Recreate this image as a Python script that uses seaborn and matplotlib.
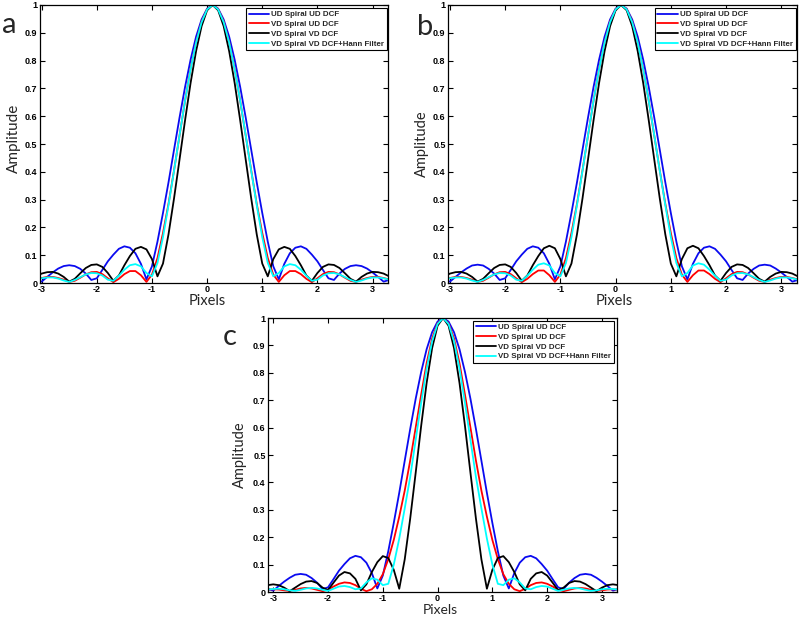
import matplotlib
matplotlib.use("Agg")
import matplotlib.pyplot as plt
import numpy as np
import pandas as pd
import seaborn as sns

# ---------------- data ----------------
x_pixels = [-3.1, -3.0, -2.9, -2.8, -2.7, -2.6, -2.5, -2.4, -2.3, -2.2, -2.1, -2.0,
            -1.9, -1.8, -1.7, -1.6, -1.5, -1.4, -1.3, -1.2, -1.1, -1.0, -0.9, -0.8,
            -0.7, -0.6, -0.5, -0.4, -0.3, -0.2, -0.1, 0.0, 0.1, 0.2, 0.3, 0.4, 0.5,
            0.6, 0.7, 0.8, 0.9, 1.0, 1.1, 1.2, 1.3, 1.4, 1.5, 1.6, 1.7, 1.8, 1.9,
            2.0, 2.1, 2.2, 2.3, 2.4, 2.5, 2.6, 2.7, 2.8, 2.9, 3.0, 3.1, 3.2, 3.3]

series_names = ["UD Spiral UD DCF", "VD Spiral UD DCF", "VD Spiral VD DCF",
                "VD Spiral VD DCF+Hann Filter"]

# panel a
blue_a = [0.011, 0.005, 0.022, 0.038, 0.052, 0.061, 0.064, 0.061, 0.051, 0.034, 0.011, 0.017,
          0.047, 0.078, 0.102, 0.123, 0.132, 0.127, 0.107, 0.069, 0.013, 0.060, 0.149, 0.252,
          0.362, 0.479, 0.595, 0.705, 0.803, 0.886, 0.948, 0.987, 1.000,
          0.987, 0.948, 0.886, 0.803, 0.705, 0.595, 0.479, 0.362, 0.252, 0.149, 0.060, 0.013,
          0.069, 0.107, 0.127, 0.132, 0.123, 0.102, 0.078, 0.047, 0.017, 0.011, 0.034, 0.051,
          0.061, 0.064, 0.061, 0.052, 0.038, 0.022, 0.005, 0.011]
red_a = [0.013, 0.018, 0.022, 0.022, 0.018, 0.012, 0.004, 0.008, 0.019, 0.031, 0.039, 0.040,
         0.032, 0.017, 0.003, 0.015, 0.032, 0.043, 0.043, 0.028, 0.004, 0.030, 0.090, 0.180,
         0.285, 0.405, 0.530, 0.655, 0.770, 0.866, 0.940, 0.985, 1.000,
         0.985, 0.940, 0.866, 0.770, 0.655, 0.530, 0.405, 0.285, 0.180, 0.090, 0.030, 0.004,
         0.028, 0.043, 0.043, 0.032, 0.015, 0.003, 0.017, 0.032, 0.040, 0.039, 0.031, 0.019,
         0.008, 0.004, 0.012, 0.018, 0.022, 0.022, 0.018, 0.013]
black_a = [0.024, 0.034, 0.039, 0.040, 0.034, 0.022, 0.005, 0.015, 0.035, 0.054, 0.065, 0.067,
           0.058, 0.036, 0.008, 0.027, 0.064, 0.097, 0.123, 0.130, 0.121, 0.086, 0.024, 0.070,
           0.175, 0.304, 0.444, 0.585, 0.719, 0.834, 0.924, 0.981, 1.000,
           0.981, 0.924, 0.834, 0.719, 0.585, 0.444, 0.304, 0.175, 0.070, 0.024, 0.086, 0.121,
           0.130, 0.123, 0.097, 0.064, 0.027, 0.008, 0.036, 0.058, 0.067, 0.065, 0.054, 0.035,
           0.015, 0.005, 0.022, 0.034, 0.040, 0.039, 0.034, 0.024]
cyan_a = [0.012, 0.017, 0.020, 0.020, 0.016, 0.009, 0.004, 0.011, 0.021, 0.031, 0.036, 0.035,
          0.027, 0.012, 0.008, 0.026, 0.048, 0.064, 0.068, 0.060, 0.036, 0.024, 0.072, 0.165,
          0.280, 0.403, 0.531, 0.655, 0.768, 0.865, 0.938, 0.984, 1.000,
          0.984, 0.938, 0.865, 0.768, 0.655, 0.531, 0.403, 0.280, 0.165, 0.072, 0.024, 0.036,
          0.060, 0.068, 0.064, 0.048, 0.026, 0.008, 0.012, 0.027, 0.035, 0.036, 0.031, 0.021,
          0.011, 0.004, 0.009, 0.016, 0.020, 0.020, 0.017, 0.012]

# panel b
blue_b = [0.011, 0.005, 0.022, 0.038, 0.052, 0.063, 0.066, 0.063, 0.051, 0.034, 0.011, 0.017,
          0.047, 0.078, 0.102, 0.123, 0.132, 0.127, 0.107, 0.069, 0.013, 0.060, 0.149, 0.252,
          0.362, 0.479, 0.595, 0.705, 0.803, 0.886, 0.948, 0.987, 1.000,
          0.987, 0.948, 0.886, 0.803, 0.705, 0.595, 0.479, 0.362, 0.252, 0.149, 0.060, 0.013,
          0.069, 0.107, 0.127, 0.132, 0.123, 0.102, 0.078, 0.047, 0.017, 0.011, 0.034, 0.051,
          0.063, 0.066, 0.063, 0.052, 0.038, 0.022, 0.005, 0.011]
red_b = [0.013, 0.018, 0.022, 0.022, 0.018, 0.012, 0.004, 0.008, 0.019, 0.031, 0.039, 0.040,
         0.032, 0.017, 0.003, 0.015, 0.032, 0.045, 0.045, 0.028, 0.004, 0.030, 0.090, 0.180,
         0.285, 0.405, 0.530, 0.655, 0.770, 0.866, 0.940, 0.985, 1.000,
         0.985, 0.940, 0.866, 0.770, 0.655, 0.530, 0.405, 0.285, 0.180, 0.090, 0.030, 0.004,
         0.028, 0.045, 0.045, 0.032, 0.015, 0.003, 0.017, 0.032, 0.040, 0.039, 0.031, 0.019,
         0.008, 0.004, 0.012, 0.018, 0.022, 0.022, 0.018, 0.013]
black_b = [0.024, 0.034, 0.039, 0.040, 0.034, 0.022, 0.005, 0.015, 0.035, 0.054, 0.065, 0.067,
           0.058, 0.036, 0.008, 0.027, 0.064, 0.097, 0.125, 0.134, 0.125, 0.086, 0.024, 0.070,
           0.175, 0.304, 0.444, 0.585, 0.719, 0.834, 0.924, 0.981, 1.000,
           0.981, 0.924, 0.834, 0.719, 0.585, 0.444, 0.304, 0.175, 0.070, 0.024, 0.086, 0.125,
           0.134, 0.125, 0.097, 0.064, 0.027, 0.008, 0.036, 0.058, 0.067, 0.065, 0.054, 0.035,
           0.015, 0.005, 0.022, 0.034, 0.040, 0.039, 0.034, 0.024]
cyan_b = [0.012, 0.017, 0.020, 0.020, 0.016, 0.009, 0.004, 0.011, 0.021, 0.031, 0.036, 0.035,
          0.027, 0.012, 0.008, 0.026, 0.048, 0.066, 0.071, 0.063, 0.036, 0.024, 0.072, 0.165,
          0.280, 0.403, 0.531, 0.655, 0.768, 0.865, 0.938, 0.984, 1.000,
          0.984, 0.938, 0.865, 0.768, 0.655, 0.531, 0.403, 0.280, 0.165, 0.072, 0.024, 0.036,
          0.063, 0.071, 0.066, 0.048, 0.026, 0.008, 0.012, 0.027, 0.035, 0.036, 0.031, 0.021,
          0.011, 0.004, 0.009, 0.016, 0.020, 0.020, 0.017, 0.012]

# panel c
blue_c = [0.011, 0.005, 0.022, 0.038, 0.052, 0.063, 0.066, 0.063, 0.051, 0.034, 0.011, 0.017,
          0.047, 0.078, 0.102, 0.123, 0.132, 0.127, 0.107, 0.069, 0.013, 0.060, 0.149, 0.252,
          0.362, 0.479, 0.595, 0.705, 0.803, 0.886, 0.948, 0.987, 1.000,
          0.987, 0.948, 0.886, 0.803, 0.705, 0.595, 0.479, 0.362, 0.252, 0.149, 0.060, 0.013,
          0.069, 0.107, 0.127, 0.132, 0.123, 0.102, 0.078, 0.047, 0.017, 0.011, 0.034, 0.051,
          0.063, 0.066, 0.063, 0.052, 0.038, 0.022, 0.005, 0.011]
red_c = [0.009, 0.010, 0.009, 0.006, 0.004, 0.008, 0.013, 0.015, 0.013, 0.008, 0.003, 0.008,
         0.020, 0.030, 0.035, 0.033, 0.025, 0.012, 0.003, 0.010, 0.030, 0.065, 0.120, 0.190,
         0.275, 0.370, 0.480, 0.600, 0.720, 0.835, 0.925, 0.980, 1.000,
         0.980, 0.925, 0.835, 0.720, 0.600, 0.480, 0.370, 0.275, 0.190, 0.120, 0.065, 0.030,
         0.010, 0.003, 0.012, 0.025, 0.033, 0.035, 0.030, 0.020, 0.008, 0.003, 0.008, 0.013,
         0.015, 0.013, 0.008, 0.004, 0.006, 0.009, 0.010, 0.009]
black_c = [0.025, 0.028, 0.025, 0.016, 0.003, 0.016, 0.029, 0.038, 0.040, 0.033, 0.016, 0.007,
           0.034, 0.060, 0.073, 0.068, 0.048, 0.006, 0.028, 0.073, 0.109, 0.131, 0.124, 0.081,
           0.012, 0.119, 0.268, 0.435, 0.606, 0.763, 0.890, 0.972, 1.000,
           0.972, 0.890, 0.763, 0.606, 0.435, 0.268, 0.119, 0.012, 0.081, 0.124, 0.131, 0.109,
           0.073, 0.028, 0.006, 0.048, 0.068, 0.073, 0.060, 0.034, 0.007, 0.016, 0.033, 0.040,
           0.038, 0.029, 0.016, 0.003, 0.016, 0.025, 0.028, 0.025]
cyan_c = [0.009, 0.011, 0.012, 0.010, 0.006, 0.004, 0.008, 0.013, 0.015, 0.013, 0.008, 0.004,
          0.012, 0.020, 0.022, 0.018, 0.010, 0.013, 0.035, 0.050, 0.045, 0.025, 0.030, 0.100,
          0.195, 0.305, 0.420, 0.555, 0.690, 0.815, 0.915, 0.978, 1.000,
          0.978, 0.915, 0.815, 0.690, 0.555, 0.420, 0.305, 0.195, 0.100, 0.030, 0.025, 0.045,
          0.050, 0.035, 0.013, 0.010, 0.018, 0.022, 0.020, 0.012, 0.004, 0.008, 0.013, 0.015,
          0.013, 0.008, 0.004, 0.006, 0.010, 0.012, 0.011, 0.009]

x_ticks = [-3, -2, -1, 0, 1, 2, 3]
x_tick_labels = ["-3", "-2", "-1", "0", "1", "2", "3"]
y_ticks = [0, 0.1, 0.2, 0.3, 0.4, 0.5, 0.6, 0.7, 0.8, 0.9, 1.0]
y_tick_labels = ["0", "0.1", "0.2", "0.3", "0.4", "0.5", "0.6", "0.7", "0.8", "0.9", "1"]
panel_letters = ["a", "b", "c"]

# ---------------- style ----------------
sns.set_theme(style="white")
plt.rcParams["font.family"] = ["Liberation Sans", "DejaVu Sans"]

colors = ["#0a0af0", "#ff0000", "#000000", "#00ffff"]
palette = dict(zip(series_names, colors))

fig = plt.figure(figsize=(8.0, 6.17), dpi=100)

panels = [
    dict(rect=[0.0500, 0.5413, 0.4350, 0.4506], xlim=(-3.03, 3.28),
         data=[blue_a, red_a, black_a, cyan_a], letter_xy=(0.003, 0.9465),
         leg_anchor=(0.997, 0.989), ylab_xy=(-0.056, 0.52), xlab_xy=(0.48, -0.08),
         ylab_size=11, xlab_size=10.5),
    dict(rect=[0.5604, 0.5413, 0.4355, 0.4506], xlim=(-3.03, 3.28),
         data=[blue_b, red_b, black_b, cyan_b], letter_xy=(0.521, 0.9433),
         leg_anchor=(0.997, 0.989), ylab_xy=(-0.056, 0.50), xlab_xy=(0.475, -0.08),
         ylab_size=10.5, xlab_size=10.5),
    dict(rect=[0.3354, 0.0405, 0.4355, 0.4441], xlim=(-3.09, 3.27),
         data=[blue_c, red_c, black_c, cyan_c], letter_xy=(0.278, 0.441),
         leg_anchor=(0.992, 0.99), ylab_xy=(-0.062, 0.50), xlab_xy=(0.495, -0.079),
         ylab_size=10.5, xlab_size=10),
]

for letter, p in zip(panel_letters, panels):
    ax = fig.add_axes(p["rect"])
    frames = []
    for name, vals in zip(series_names, p["data"]):
        frames.append(pd.DataFrame({"Pixels": x_pixels, "Amplitude": vals, "Series": name}))
    df = pd.concat(frames, ignore_index=True)
    sns.lineplot(data=df, x="Pixels", y="Amplitude", hue="Series", hue_order=series_names,
                 palette=palette, estimator=None, sort=False, linewidth=1.3, ax=ax,
                 legend=False)
    ax.set_xlim(*p["xlim"])
    ax.set_ylim(0, 1)
    ax.set_xticks(x_ticks)
    ax.set_xticklabels(x_tick_labels, fontweight="bold")
    ax.set_yticks(y_ticks)
    ax.set_yticklabels(y_tick_labels, fontweight="bold")
    ax.tick_params(direction="in", length=3.5, width=0.8, top=True, right=True,
                   bottom=True, left=True, labelsize=6.5, pad=2, colors="black")
    ax.tick_params(axis="x", pad=1.5)
    for s in ax.spines.values():
        s.set_visible(True)
        s.set_color("black")
        s.set_linewidth(0.9)
    ax.set_xlabel("Pixels", family="Lato", fontsize=p["xlab_size"], va="baseline")
    ax.xaxis.set_label_coords(*p["xlab_xy"])
    ax.set_ylabel("Amplitude", family="Lato", fontsize=p["ylab_size"])
    ax.yaxis.set_label_coords(*p["ylab_xy"])
    leg = ax.legend(handles=ax.lines[:4], labels=series_names, loc="upper right",
                    bbox_to_anchor=p["leg_anchor"], borderaxespad=0, fancybox=False,
                    framealpha=1, edgecolor="black", prop=dict(size=5.7, weight="bold"),
                    handlelength=2.6, handletextpad=0.25, borderpad=0.35,
                    labelspacing=0.28)
    leg.get_frame().set_linewidth(0.8)
    fig.text(p["letter_xy"][0], p["letter_xy"][1], letter, family="Lato", fontsize=21,
             va="baseline", ha="left")

fig.savefig("out.png", dpi=100)
